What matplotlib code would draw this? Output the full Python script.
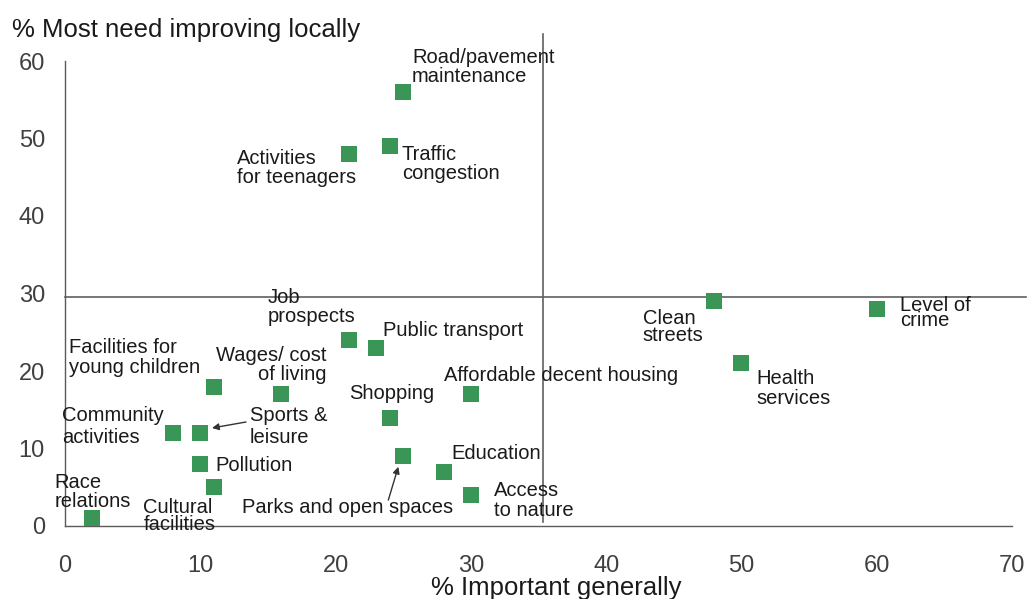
import matplotlib
matplotlib.use("Agg")
import matplotlib.pyplot as plt
import matplotlib.transforms as mtransforms

plt.rcParams['font.family'] = ['Liberation Sans', 'DejaVu Sans']

# ---- data ----
labels = [
    "Road/pavement\nmaintenance", "Traffic\ncongestion", "Activities\nfor teenagers",
    "Clean\nstreets", "Level of\ncrime", "Health\nservices",
    "Job\nprospects", "Public transport", "Wages/ cost\nof living",
    "Affordable decent housing", "Shopping", "Facilities for\nyoung children",
    "Community\nactivities", "Sports &\nleisure", "Pollution",
    "Parks and open spaces", "Cultural\nfacilities", "Education",
    "Access\nto nature", "Race\nrelations",
]
important_generally = [25, 24, 21, 48, 60, 50, 21, 23, 16, 30, 24, 11, 8, 10, 10, 25, 11, 28, 30, 2]
need_improving = [56, 49, 48, 29, 28, 21, 24, 23, 17, 17, 14, 18, 12, 12, 8, 9, 5, 7, 4, 1]
x_ticks = [0, 10, 20, 30, 40, 50, 60, 70]
y_ticks = [0, 10, 20, 30, 40, 50, 60]
ref_x = 35.3
ref_y = 29.6

# ---- label layout: (dx px, dy px of first baseline, line spacing px, ha) ----
label_layout = [
    (8.8, 29, 18.7, 'left'), (12, -13.8, 19, 'left'), (-112.1, -10, 19, 'left'),
    (-71.7, -22.8, 16.7, 'left'), (23.3, -2, 15, 'left'), (14.5, -20.8, 20, 'left'),
    (-81.4, 37.3, 19, 'left'), (6.8, 12, 19, 'left'), (45.5, 33.5, 19.3, 'right'),
    (-26.9, 13.3, 19, 'left'), (-40.7, 18.5, 19, 'left'), (-144.8, 33.2, 20, 'left'),
    (-110.9, 12, 22.3, 'left'), (49.7, 12.3, 22.6, 'left'), (14.7, -6.7, 19, 'left'),
    (-161.5, -56.5, 19, 'left'), (-70.5, -25.5, 17.3, 'left'), (7.9, 12.5, 19, 'left'),
    (23.1, -0.7, 20, 'left'), (-37.8, 30, 18.3, 'left'),
]
# arrows: index -> (tail offset px, head offset px)
arrows = {13: ((45.7, 11), (11.7, 5)), 15: ((-14.9, -43.8), (-4.9, -10.5))}

W, H = 1028, 599
fig = plt.figure(figsize=(W / 100, H / 100), dpi=100)
ax = fig.add_axes([65 / W, 1 - 526 / H, (1012 - 65) / W, (526 - 61) / H])
ax.set_xlim(0, 70)
ax.set_ylim(0, 60)

for s in ['top', 'right']:
    ax.spines[s].set_visible(False)
for s in ['left', 'bottom']:
    ax.spines[s].set_color('#5a5a5a')
    ax.spines[s].set_linewidth(1.0)

ax.set_xticks(x_ticks)
ax.set_yticks(y_ticks)
ax.tick_params(axis='x', length=0, pad=21, labelsize=17, labelcolor='#404040')
ax.tick_params(axis='y', length=0, pad=14.4, labelsize=17, labelcolor='#404040')

# reference lines
ax.plot([0, 71], [ref_y, ref_y], color='#606060', lw=1.2, clip_on=False, zorder=1)
ax.plot([ref_x, ref_x], [0.5, 63.5], color='#606060', lw=1.2, clip_on=False, zorder=1)

ax.plot(important_generally, need_improving, linestyle='none', marker='s',
        markersize=12.2, markeredgewidth=0, color='#3A9657', zorder=3, clip_on=False)

for i, (lab, x, y) in enumerate(zip(labels, important_generally, need_improving)):
    dx, dy, sp, ha = label_layout[i]
    for j, line in enumerate(lab.split("\n")):
        ax.annotate(line, (x, y), xytext=(dx, dy - j * sp), textcoords='offset pixels',
                    ha=ha, va='baseline', fontsize=14.5, color='#1a1a1a', zorder=4,
                    annotation_clip=False)
    if i in arrows:
        (tx, ty), (hx, hy) = arrows[i]
        head_tr = mtransforms.offset_copy(ax.transData, fig=fig, x=hx, y=hy, units='dots')
        tail_tr = mtransforms.offset_copy(ax.transData, fig=fig, x=tx, y=ty, units='dots')
        ax.annotate('', xy=(x, y), xycoords=head_tr, xytext=(x, y), textcoords=tail_tr,
                    arrowprops=dict(arrowstyle='-|>', color='#333333', lw=1.0,
                                    mutation_scale=10, shrinkA=0, shrinkB=0),
                    annotation_clip=False)

fig.text(12 / W, 1 - 37 / H, "% Most need improving locally", fontsize=18.5,
         color='#1a1a1a', ha='left', va='baseline')
fig.text(556 / W, 1 - 595 / H, "% Important generally", fontsize=18.5,
         color='#1a1a1a', ha='center', va='baseline')

fig.savefig("out.png", dpi=100, facecolor='white')
